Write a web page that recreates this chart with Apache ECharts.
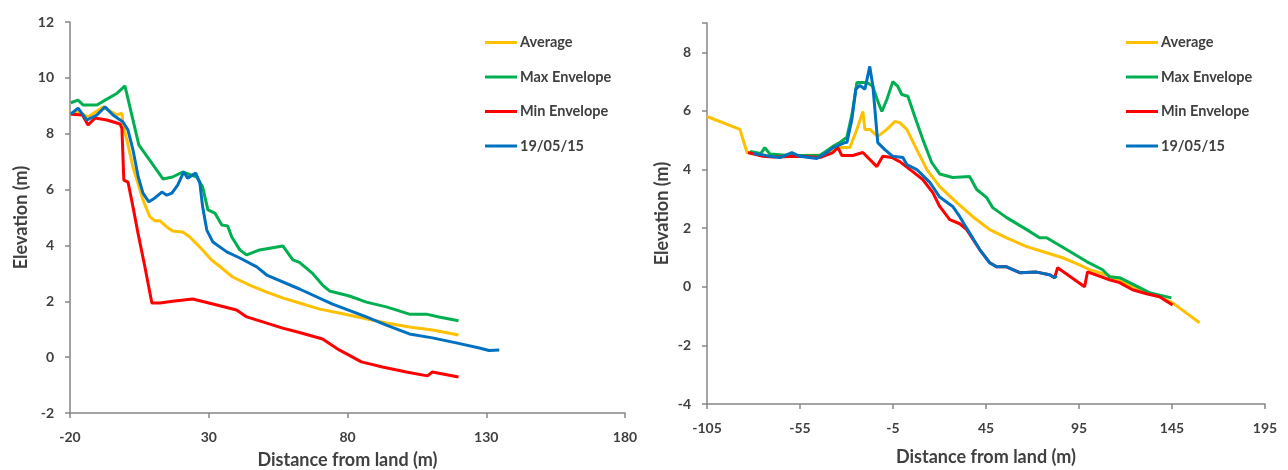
<!DOCTYPE html>
<html>
<head>
<meta charset="utf-8">
<script src="https://cdn.jsdelivr.net/npm/echarts@6/dist/echarts.min.js"></script>
<style>
  html, body { margin: 0; padding: 0; background: #fff; }
  #chart { width: 1288px; height: 470px; }
</style>
</head>
<body>
<div id="chart"></div>
<script>
// left profile (distance m, elevation m)
const avgLx = [-19.7, -17, -13.5, -8.1, -3.1, -1.3, -0.9, 0.5, 2.7, 6.3, 8.8, 10.6, 12.4, 14.9, 17, 20.6, 23.2, 26.8, 31, 34.7, 38.6, 44.7, 50.9, 56.6, 62.7, 70, 77, 85.4, 94, 102.3, 110.6, 120];
const avgLy = [8.74, 8.78, 8.6, 8.96, 8.67, 8.74, 8.3, 7.78, 6.8, 5.63, 5.02, 4.88, 4.88, 4.66, 4.52, 4.48, 4.3, 3.94, 3.48, 3.19, 2.87, 2.58, 2.33, 2.12, 1.94, 1.72, 1.58, 1.4, 1.22, 1.08, 0.97, 0.79];
const maxLx = [-19.7, -17.1, -15.3, -10.3, -6.7, -3, -0.2, 4.8, 13.5, 17, 20.6, 25.7, 27.8, 29.7, 32.2, 34.7, 36.8, 38.3, 41.2, 43.7, 48.3, 56.7, 60.3, 62.7, 67.4, 71, 73.5, 80.7, 86.8, 94, 102.3, 108.4, 113, 120];
const maxLy = [9.11, 9.2, 9.03, 9.03, 9.24, 9.45, 9.71, 7.6, 6.38, 6.45, 6.63, 6.45, 6.09, 5.27, 5.16, 4.73, 4.7, 4.3, 3.84, 3.66, 3.84, 3.98, 3.48, 3.39, 3.0, 2.58, 2.37, 2.19, 1.97, 1.8, 1.54, 1.54, 1.44, 1.3];
const minLx = [-19.7, -15.5, -13.5, -11, -6.7, -2, -1.3, -0.6, 0.9, 2.7, 4.5, 7, 9.5, 12.4, 17, 24.2, 31.5, 40, 43.7, 50.9, 56.6, 62.7, 71, 77, 85, 92.6, 101.2, 108.8, 110.6, 120];
const minLy = [8.7, 8.67, 8.31, 8.56, 8.49, 8.35, 8.2, 6.34, 6.27, 5.38, 4.44, 3.23, 1.94, 1.94, 2.0, 2.08, 1.9, 1.69, 1.44, 1.22, 1.04, 0.88, 0.65, 0.26, -0.17, -0.35, -0.53, -0.67, -0.53, -0.71];
const surLx = [-19.7, -17.1, -13.9, -10.3, -7.4, -4.5, -0.9, 0.9, 2.7, 4.6, 6.3, 8.4, 10.6, 13.1, 14.9, 16.7, 18.8, 21, 22.4, 25.3, 26.8, 27.8, 29.3, 31.5, 36.5, 41.2, 47.3, 50.9, 62.7, 74.6, 86.8, 94, 102.3, 110.6, 119.2, 127.5, 131, 134.7];
const surLy = [8.7, 8.92, 8.49, 8.67, 8.96, 8.67, 8.42, 8.13, 7.42, 6.45, 5.87, 5.56, 5.7, 5.91, 5.8, 5.87, 6.16, 6.63, 6.41, 6.59, 6.23, 5.38, 4.55, 4.12, 3.77, 3.55, 3.23, 2.94, 2.44, 1.9, 1.44, 1.15, 0.83, 0.69, 0.51, 0.33, 0.24, 0.26];

// right profile
const avgRx = [-105, -87.3, -83.5, -75, -65.8, -55, -44.3, -35.2, -28.2, -24.4, -21.2, -20.1, -17.5, -13.2, -8.3, -4, -1.4, 2.4, 7.8, 13.2, 20.1, 29.3, 37.9, 47, 56.1, 66.9, 77.6, 86.2, 95.3, 100.7, 109.8, 120.6, 131.3, 138.3, 145.3, 159.8];
const avgRy = [5.81, 5.37, 4.58, 4.5, 4.43, 4.48, 4.5, 4.75, 4.75, 5.37, 5.98, 5.37, 5.37, 5.13, 5.37, 5.64, 5.6, 5.37, 4.68, 4.0, 3.42, 2.87, 2.39, 1.95, 1.67, 1.37, 1.16, 0.99, 0.75, 0.58, 0.41, 0.1, -0.2, -0.34, -0.55, -1.23];
const maxRx = [-81.9, -76, -73.9, -71.2, -60.4, -44.3, -37.3, -33.6, -29.8, -27, -24.4, -21.2, -19, -15.9, -13, -11, -8.3, -5.1, -2.4, -0.3, 3, 6.7, 11, 15.8, 20.1, 27.1, 36.2, 40, 45.4, 48.6, 56.1, 66.9, 73.8, 77.6, 88.3, 99.1, 107.7, 111.4, 116.8, 132.9, 144.7];
const maxRy = [4.62, 4.55, 4.75, 4.53, 4.48, 4.48, 4.79, 4.92, 5.1, 5.9, 6.97, 6.97, 6.97, 6.84, 6.3, 5.98, 6.39, 7.0, 6.84, 6.56, 6.5, 5.81, 5.03, 4.24, 3.85, 3.73, 3.76, 3.32, 3.04, 2.7, 2.36, 1.95, 1.67, 1.67, 1.27, 0.86, 0.58, 0.34, 0.31, -0.2, -0.38];
const minRx = [-83, -75, -69.5, -55, -44.3, -37.3, -34.6, -32.5, -26.6, -21.2, -13.7, -10.5, -5.6, -1.4, 5.6, 11, 16.4, 20.1, 25.5, 30.9, 34.6, 41.6, 47, 50.8, 56.1, 63.1, 72.2, 79.2, 81.9, 83.5, 98, 99.6, 111.4, 116.8, 123.8, 131.3, 138.3, 145.3];
const minRy = [4.58, 4.45, 4.43, 4.45, 4.41, 4.58, 4.75, 4.48, 4.48, 4.58, 4.1, 4.45, 4.41, 4.27, 3.93, 3.66, 3.21, 2.74, 2.29, 2.15, 1.95, 1.27, 0.82, 0.68, 0.68, 0.48, 0.5, 0.41, 0.31, 0.65, 0.0, 0.51, 0.24, 0.14, -0.1, -0.24, -0.34, -0.62];
const surRx = [-80.3, -75, -71.2, -65.8, -59.4, -55, -45.9, -40.6, -37.3, -30.9, -29.8, -27.1, -25, -22.8, -20.1, -17.5, -15.8, -13.2, -9.4, -5.1, 0.3, 2.4, 7.8, 14.8, 20.1, 27.1, 30.9, 34.6, 41.6, 47, 50.8, 56.1, 63.1, 72.2, 79.2, 81.9, 83];
const surRy = [4.55, 4.5, 4.45, 4.41, 4.58, 4.45, 4.38, 4.58, 4.75, 4.92, 4.92, 5.71, 6.74, 6.87, 6.74, 7.52, 6.84, 4.92, 4.68, 4.45, 4.41, 4.17, 4.0, 3.56, 3.06, 2.74, 2.39, 2.0, 1.27, 0.82, 0.68, 0.68, 0.48, 0.5, 0.41, 0.31, 0.38];

const names = ["Average", "Max Envelope", "Min Envelope", "19/05/15"];
const colors = ["#FFC000", "#00B050", "#FF0000", "#0070C0"];
// x axes start at an offset so tick counting starts at 0
const offL = 20;
const offR = 105;

const font = "Lato, 'Open Sans', sans-serif";
const textColor = "#404040";
const axisColor = "#868686";

function pairs(xs, ys, off) {
  return xs.map((x, i) => [x + off, ys[i]]);
}

function line(name, color, idx, xs, ys, off) {
  return {
    name: name,
    type: "line",
    xAxisIndex: idx,
    yAxisIndex: idx,
    data: pairs(xs, ys, off),
    showSymbol: false,
    color: color,
    lineStyle: { width: 3, color: color },
    z: 2
  };
}

function xAxis(idx, off, max, gap) {
  return {
    type: "value",
    gridIndex: idx,
    min: 0,
    max: max,
    interval: 50,
    name: "Distance from land (m)",
    nameLocation: "middle",
    nameGap: gap,
    nameTextStyle: { fontFamily: font, fontWeight: "bold", fontSize: 18, color: textColor },
    axisLine: { show: true, onZero: false, lineStyle: { color: axisColor, width: 1.5 } },
    axisTick: { show: true, length: 5, lineStyle: { color: axisColor, width: 1.5 } },
    axisLabel: {
      margin: 17,
      fontFamily: font, fontWeight: "bold", fontSize: 14, color: textColor,
      formatter: (v) => String(v - off)
    },
    splitLine: { show: false }
  };
}

function yAxis(idx, min, max, gap) {
  return {
    type: "value",
    gridIndex: idx,
    min: min,
    max: max,
    interval: 2,
    name: "Elevation (m)",
    nameLocation: "middle",
    nameGap: gap,
    nameTextStyle: { fontFamily: font, fontWeight: "bold", fontSize: 18, color: textColor },
    axisLine: { show: true, onZero: false, lineStyle: { color: axisColor, width: 1.5 } },
    axisTick: { show: true, length: 5, lineStyle: { color: axisColor, width: 1.5 } },
    axisLabel: {
      margin: 16,
      fontFamily: font, fontWeight: "bold", fontSize: 14, color: textColor,
      formatter: (v) => (v % 2 === 0 ? String(v) : "")
    },
    splitLine: { show: false }
  };
}

function legend(left) {
  return {
    left: left,
    top: 30,
    orient: "vertical",
    icon: "rect",
    itemWidth: 32,
    itemHeight: 3,
    itemGap: 19.5,
    selectedMode: false,
    data: names,
    textStyle: { fontFamily: font, fontWeight: "bold", fontSize: 14.5, color: textColor, padding: [0, 0, 0, -2] }
  };
}

const series = [];
[[avgLx, avgLy], [maxLx, maxLy], [minLx, minLy], [surLx, surLy]].forEach((d, i) => {
  series.push(line(names[i], colors[i], 0, d[0], d[1], offL));
});
[[avgRx, avgRy], [maxRx, maxRy], [minRx, minRy], [surRx, surRy]].forEach((d, i) => {
  series.push(line(names[i], colors[i], 1, d[0], d[1], offR));
});

const chart = echarts.init(document.getElementById("chart"));
chart.setOption({
  animation: false,
  backgroundColor: "#fff",
  grid: [
    { left: 70, right: 663, top: 22, bottom: 57, outerBoundsMode: "none" },
    { left: 707, right: 23, top: 23, bottom: 66, outerBoundsMode: "none" }
  ],
  legend: [legend(480), legend(1121)],
  xAxis: [xAxis(0, offL, 200, 38), xAxis(1, offR, 300, 44)],
  yAxis: [yAxis(0, -2, 12, 40), yAxis(1, -4, 9, 36)],
  series: series
});
</script>
</body>
</html>
